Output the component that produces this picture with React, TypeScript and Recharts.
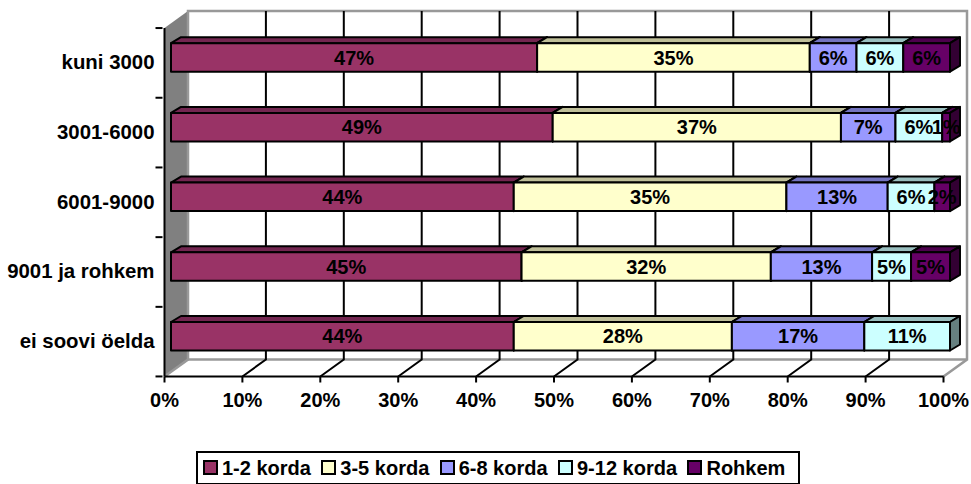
import React from 'react';
import { BarChart, Bar, XAxis, YAxis, ReferenceArea, ReferenceLine, Legend, LabelList } from 'recharts';

const categories = ['kuni 3000', '3001-6000', '6001-9000', '9001 ja rohkem', 'ei soovi öelda'];
const seriesNames = ['1-2 korda', '3-5 korda', '6-8 korda', '9-12 korda', 'Rohkem'];
const korda12 = [47, 49, 44, 45, 44];
const korda35 = [35, 37, 35, 32, 28];
const korda68 = [6, 7, 13, 13, 17];
const korda912 = [6, 6, 6, 5, 11];
const rohkem = [6, 1, 2, 5, null];
const xTicks = [0, 10, 20, 30, 40, 50, 60, 70, 80, 90, 100];

const frontColors = ['#993366', '#FFFFCC', '#9999FF', '#CCFFFF', '#660066'];
const topColors = ['#732650', '#BFBF99', '#7373BF', '#99BFBF', '#4D004D'];
const sideColors = ['#4D1A33', '#808066', '#4D4D80', '#668080', '#330033'];

const seriesValues = [korda12, korda35, korda68, korda912, rohkem];
const data = categories.map((name, i) => {
  const row: Record<string, string | number | null> = { name };
  seriesNames.forEach((s, j) => { row[s] = seriesValues[j][i]; });
  return row;
});

const WIDTH = 971;
const HEIGHT = 484;
const FONT = '"Liberation Sans", Arial, sans-serif';
const FONT_SIZE = 20;

// 3d offsets
const WALL_DX = 23.5;
const WALL_DY = -17;
const BAR_DX = 6.5;
const BAR_DY = -5.8;
const DEPTH_X = 10;
const DEPTH_Y = 6;
const BAND = 69.6;

const makeShape = (idx: number) => (props: any) => {
  const { x, y, width, height } = props;
  if (!width || width <= 0) return null;
  const fx = x + BAR_DX;
  const fy = y + BAR_DY;
  const w = width;
  const h = height;
  return (
    <g stroke="#000" strokeWidth={2} strokeLinejoin="round">
      <path fill={topColors[idx]} d={`M${fx},${fy} l${DEPTH_X},${-DEPTH_Y} h${w} l${-DEPTH_X},${DEPTH_Y} Z`} />
      <path fill={sideColors[idx]} d={`M${fx + w},${fy} l${DEPTH_X},${-DEPTH_Y} v${h} l${-DEPTH_X},${DEPTH_Y} Z`} />
      <rect x={fx} y={fy} width={w} height={h} fill={frontColors[idx]} />
    </g>
  );
};

const Walls = (props: any) => {
  const { x, y, width, height } = props;
  const r = x + width;
  const b = y + height;
  return (
    <g>
      <path fill="#808080" d={`M${x},${y} l${WALL_DX},${WALL_DY} V${b + WALL_DY} L${x},${b} Z`} />
      <path
        fill="none"
        stroke="#999"
        strokeWidth={2.5}
        d={`M${x},${b} L${x + WALL_DX},${b + WALL_DY} V${y + WALL_DY} H${r + WALL_DX} V${b + WALL_DY} L${r},${b}`}
      />
      <path fill="none" stroke="#999" strokeWidth={2.5} d={`M${x + WALL_DX},${b + WALL_DY} H${r + WALL_DX}`} />
    </g>
  );
};

const GridLine = (props: any) => {
  const { x1, y1, y2 } = props;
  const top = Math.min(y1, y2);
  const bottom = Math.max(y1, y2);
  return (
    <path
      fill="none"
      stroke="#000"
      strokeWidth={2}
      d={`M${x1},${bottom} L${x1 + WALL_DX},${bottom + WALL_DY} V${top + WALL_DY}`}
    />
  );
};

const CategoryTick = (props: any) => {
  const { x, y, payload, index } = props;
  return (
    <g>
      <path stroke="#000" strokeWidth={2} d={`M${x},${y - BAND / 2} h-7`} />
      {index === categories.length - 1 && (
        <path stroke="#000" strokeWidth={2} d={`M${x},${y + BAND / 2} h-7`} />
      )}
      <text x={x - 8} y={y} dy="0.31em" textAnchor="end" fontFamily={FONT} fontSize={20.4} fontWeight="bold" fill="#000">
        {payload.value}
      </text>
    </g>
  );
};

const SegmentLabel = (props: any) => {
  const { x, y, width, height, value } = props;
  if (value == null) return null;
  return (
    <text
      x={x + BAR_DX + width / 2}
      y={y + BAR_DY + height / 2}
      dy="0.36em"
      textAnchor="middle"
      fontFamily={FONT}
      fontSize={FONT_SIZE}
      fontWeight="bold"
      fill="#000"
    >
      {`${value}%`}
    </text>
  );
};

const LegendBox = ({ payload }: any) => (
  <div
    style={{
      boxSizing: 'border-box',
      width: 604,
      height: 34,
      border: '2px solid #000',
      display: 'flex',
      alignItems: 'center',
      paddingLeft: 5,
      fontFamily: FONT,
      fontSize: FONT_SIZE,
      fontWeight: 'bold',
      color: '#000',
      background: '#fff',
      whiteSpace: 'nowrap',
    }}
  >
    {(payload || []).map((p: any) => (
      <span key={p.value} style={{ display: 'flex', flexShrink: 0, alignItems: 'center', marginRight: 10.4 }}>
        <span style={{ boxSizing: 'border-box', width: 15, height: 15, marginTop: -2, border: '2px solid #000', background: p.color, marginRight: 4 }} />
        {p.value}
      </span>
    ))}
  </div>
);

export default function App() {
  return (
    <div style={{ position: 'absolute', left: 0, top: 0, width: WIDTH, height: HEIGHT, background: '#fff', overflow: 'hidden' }}>
      <BarChart
        width={WIDTH}
        height={HEIGHT}
        data={data}
        layout="vertical"
        margin={{ top: 28, right: 27.5, bottom: 43.5, left: 0.5 }}
        barCategoryGap={0}
      >
        <ReferenceArea x1={0} x2={100} shape={Walls} ifOverflow="visible" zIndex={100} />
        {xTicks.slice(1, -1).map((t) => (
          <ReferenceLine key={t} x={t} shape={GridLine} ifOverflow="visible" zIndex={150} />
        ))}
        <XAxis
          type="number"
          domain={[0, 100]}
          ticks={xTicks}
          height={30}
          interval={0}
          tickFormatter={(v) => `${v}%`}
          axisLine={{ stroke: '#000', strokeWidth: 2 }}
          tickLine={{ stroke: '#000', strokeWidth: 2 }}
          tickSize={6}
          tickMargin={10}
          tick={{ fontFamily: FONT, fontSize: FONT_SIZE, fontWeight: 'bold', fill: '#000' }}
        />
        <YAxis
          type="category"
          dataKey="name"
          width={164}
          interval={0}
          axisLine={{ stroke: '#000', strokeWidth: 2 }}
          tickLine={false}
          tickSize={0}
          tick={<CategoryTick />}
        />
        {seriesNames.map((s, i) => (
          <Bar
            key={s}
            dataKey={s}
            name={s}
            stackId="a"
            fill={frontColors[i]}
            barSize={28.5}
            shape={makeShape(i)}
            isAnimationActive={false}
          >
            <LabelList dataKey={s} content={<SegmentLabel />} />
          </Bar>
        ))}
        <Legend
          layout="horizontal"
          content={<LegendBox />}
          wrapperStyle={{ position: 'absolute', left: 196, top: 451, width: 604, bottom: 'auto' }}
        />
      </BarChart>
    </div>
  );
}
